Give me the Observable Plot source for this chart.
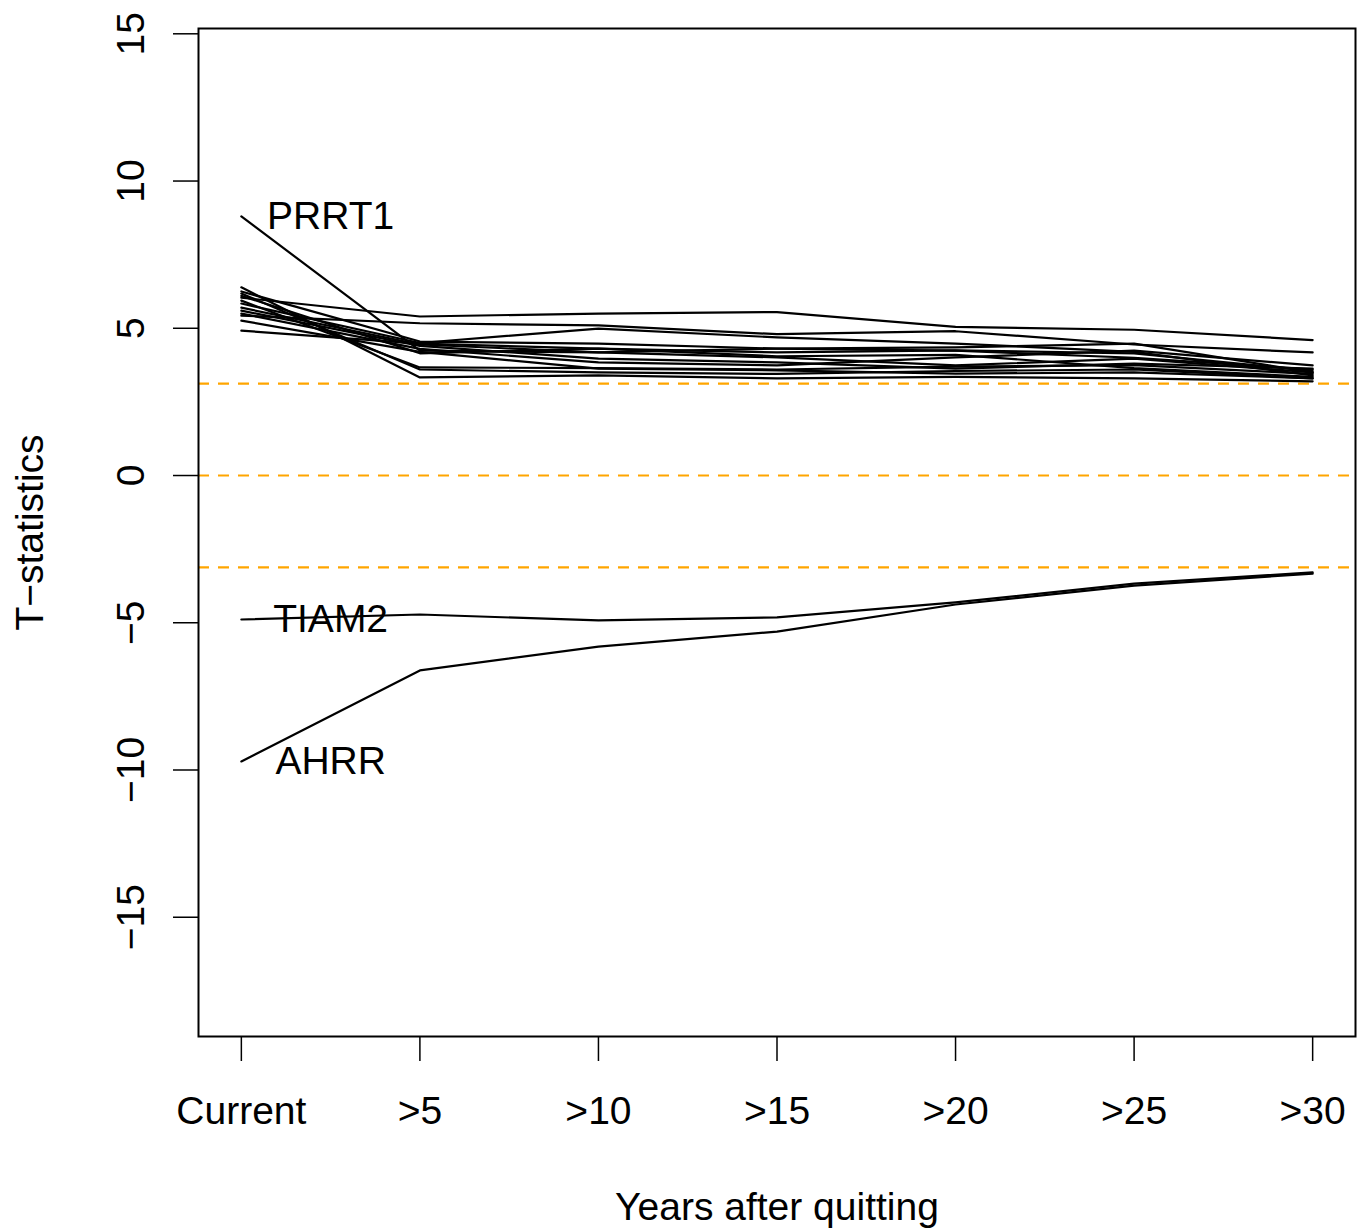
<!DOCTYPE html>
<html><head><meta charset="utf-8">
<script src="https://cdn.jsdelivr.net/npm/d3@7"></script>
<script src="https://cdn.jsdelivr.net/npm/@observablehq/plot@0.6"></script>
<style>body{margin:0;background:#fff}</style>
</head><body><div id="chart"></div>
<script>
// x categories (years after quitting)
const categories = ["Current", ">5", ">10", ">15", ">20", ">25", ">30"];
const yTicks = [-15, -10, -5, 0, 5, 10, 15];
const thresholds = [-3.12, 0, 3.12];

// Labelled CpG genes
const PRRT1 = [8.80, 4.24, 4.18, 4.31, 4.35, 4.48, 3.50];
const TIAM2 = [-4.89, -4.72, -4.92, -4.82, -4.31, -3.67, -3.29];
const AHRR  = [-9.71, -6.62, -5.81, -5.30, -4.38, -3.74, -3.33];

// Unlabelled positive sites
const siteA = [6.04, 5.40, 5.50, 5.55, 5.05, 4.95, 4.60];
const siteB = [5.43, 5.17, 5.10, 4.80, 4.90, 4.45, 4.18];
const siteC = [6.39, 3.33, 3.40, 3.30, 3.35, 3.30, 3.20];
const siteD = [6.18, 3.60, 3.50, 3.45, 3.55, 3.60, 3.30];
const siteE = [5.94, 3.67, 3.65, 3.60, 3.70, 3.75, 3.45];
const siteF = [4.92, 4.48, 4.31, 4.18, 4.25, 4.15, 3.55];
const siteG = [6.25, 4.55, 4.48, 4.31, 4.24, 4.00, 3.60];
const siteH = [5.84, 4.50, 4.99, 4.69, 4.48, 4.20, 3.40];
const siteI = [5.70, 4.45, 4.18, 4.01, 3.74, 3.97, 3.50];
const siteJ = [5.60, 4.40, 3.97, 3.84, 3.63, 3.80, 3.63];
const siteK = [5.50, 4.30, 3.84, 3.74, 4.01, 4.24, 3.74];
const siteL = [5.26, 4.20, 3.63, 3.57, 3.46, 3.50, 3.30];
const siteM = [6.10, 4.15, 4.31, 4.05, 4.10, 3.65, 3.35];

const labelled = [["PRRT1", PRRT1], ["TIAM2", TIAM2], ["AHRR", AHRR]];
const others = [siteA, siteB, siteC, siteD, siteE, siteF, siteG, siteH, siteI, siteJ, siteK, siteL, siteM];
const labelX = 1.5;

const table = [];
labelled.forEach(([g, v]) => v.forEach((t, i) => table.push({gene: g, x: i + 1, t})));
others.forEach((v, k) => v.forEach((t, i) => table.push({gene: "site" + k, x: i + 1, t})));
const labels = labelled.map(([g, v]) => ({gene: g, x: labelX, t: v[0]}));

const chart = Plot.plot({
  width: 1365, height: 1232,
  marginLeft: 198, marginRight: 10, marginTop: 28, marginBottom: 196,
  style: {fontFamily: "'Liberation Sans', Arial, sans-serif", fontSize: "39px", color: "black", background: "white"},
  x: {domain: [0.76, 7.24]},
  y: {domain: [-19.05, 15.18]},
  marks: [
    Plot.ruleY(thresholds, {stroke: "#FFA500", strokeWidth: 2.2, strokeDasharray: "11,9"}),
    Plot.line(table, {x: "x", y: "t", z: "gene", stroke: "black", strokeWidth: 2.2}),
    Plot.text(labels, {x: "x", y: "t", text: "gene", fontSize: 39, fill: "black"}),
    Plot.frame({stroke: "black", strokeWidth: 2}),
    Plot.axisX(d3.range(1, 8), {tickSize: 25, tickPadding: 35, tickFormat: i => categories[i - 1], fontSize: 39, label: null, strokeWidth: 1.5}),
    Plot.axisY(yTicks, {tickSize: 25, tickRotate: -90, tickPadding: 30, fontSize: 39, label: null, strokeWidth: 1.5}),
    Plot.text(["T−statistics"], {text: d => d, frameAnchor: "left", textAnchor: "middle", lineAnchor: "middle", rotate: -90, dx: -168, fontSize: 39}),
    Plot.text(["Years after quitting"], {text: d => d, frameAnchor: "bottom", textAnchor: "middle", lineAnchor: "middle", dy: 171, fontSize: 39})
  ]
});
document.getElementById("chart").appendChild(chart);
</script>
</body></html>
